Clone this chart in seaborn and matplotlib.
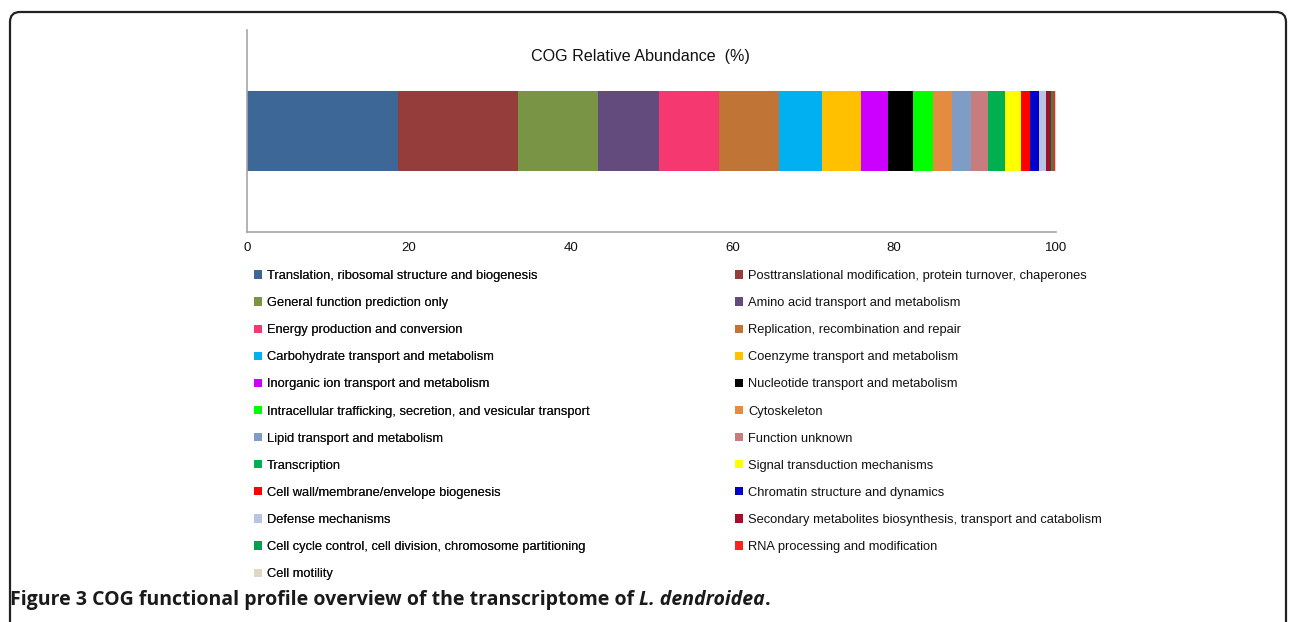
import matplotlib
matplotlib.use("Agg")
import matplotlib.pyplot as plt
import matplotlib.patches as mpatches
import matplotlib.transforms as mtransforms
import pandas as pd
import seaborn as sns

# COG categories, in bar / legend order
categories = [
    "Translation, ribosomal structure and biogenesis",
    "Posttranslational modification, protein turnover, chaperones",
    "General function prediction only",
    "Amino acid transport and metabolism",
    "Energy production and conversion",
    "Replication, recombination and repair",
    "Carbohydrate transport and metabolism",
    "Coenzyme transport and metabolism",
    "Inorganic ion transport and metabolism",
    "Nucleotide transport and metabolism",
    "Intracellular trafficking, secretion, and vesicular transport",
    "Cytoskeleton",
    "Lipid transport and metabolism",
    "Function unknown",
    "Transcription",
    "Signal transduction mechanisms",
    "Cell wall/membrane/envelope biogenesis",
    "Chromatin structure and dynamics",
    "Defense mechanisms",
    "Secondary metabolites biosynthesis, transport and catabolism",
    "Cell cycle control, cell division, chromosome partitioning",
    "RNA processing and modification",
    "Cell motility",
]
# relative abundance (%)
abundance = [18.63, 14.92, 9.84, 7.50, 7.42, 7.42, 5.35, 4.82, 3.34, 3.05,
             2.56, 2.30, 2.31, 2.10, 2.19, 1.89, 1.20, 1.03, 0.90, 0.58,
             0.28, 0.22, 0.15]
colors = ["#3D6796", "#943D3B", "#7A9445", "#634C7D", "#F5386F", "#C07536",
          "#00B0F0", "#FFC000", "#CC00FF", "#000000", "#00FF00", "#E38B41",
          "#7F9CC6", "#C77D7D", "#00B050", "#FFFF00", "#FF0000", "#0000CC",
          "#B8C4E0", "#A0102A", "#00A050", "#FF2020", "#DDD9C3"]

df = pd.DataFrame({"category": categories, "abundance": abundance, "color": colors})
df["end"] = df["abundance"].cumsum()

sns.set_theme(style="white")
plt.rcParams['font.family'] = ['Liberation Sans', 'DejaVu Sans']

W, H = 1290, 622
fig = plt.figure(figsize=(W / 100, H / 100), dpi=100)
ax = fig.add_axes([247 / W, 1 - 232 / H, (1056 - 247) / W, (232 - 30) / H])

# stacked bar: draw cumulative bars from the back to the front
for i in range(len(df) - 1, -1, -1):
    row = df.iloc[i]
    sns.barplot(x=[row["end"]], y=["COG"], color=row["color"], orient="h",
                width=0.4, saturation=1, linewidth=0, errorbar=None, ax=ax)

ax.set_xlim(0, 100)
ax.set_ylim(0.5, -0.5)
ax.set_xticks(range(0, 101, 20))
ax.set_yticks([-0.5])
ax.set_yticklabels([""])
ax.set_xlabel("")
ax.set_ylabel("")
for s in ["top", "right"]:
    ax.spines[s].set_visible(False)
for s in ["left", "bottom"]:
    ax.spines[s].set_color("#A6A6A6")
    ax.spines[s].set_linewidth(1.2)
ax.tick_params(axis="x", direction="in", length=4, color="#A6A6A6", pad=7,
               labelsize=9.5, labelcolor="#111111")
ax.tick_params(axis="y", direction="out", length=4, color="#A6A6A6")

fig.text(640 / W, 1 - 56 / H, "COG Relative Abundance  (%)", ha="center",
         va="center", fontsize=11.6, color="#111111")

# legend, row-major in two columns
handles = [mpatches.Patch(facecolor=c, edgecolor="none", label=l)
           for c, l in zip(colors, categories)]
leg_kw = dict(loc="upper left", frameon=False, borderpad=0, borderaxespad=0,
              handlelength=0.6, handleheight=0.6, handletextpad=0.4,
              labelspacing=1.17, fontsize=9.3, labelcolor="#111111")
leg1 = fig.legend(handles=handles[0::2], bbox_to_anchor=(254 / W, 1 - 270 / H), **leg_kw)
fig.add_artist(leg1)
fig.legend(handles=handles[1::2], bbox_to_anchor=(735 / W, 1 - 270 / H), **leg_kw)

# caption with italic species name
cap_y = 1 - 600 / H
cap_kw = dict(fontsize=14, fontweight="bold", va="center", color="#1a1a1a",
              family=['Open Sans', 'DejaVu Sans'])
t1 = fig.text(10 / W, cap_y, "Figure 3 COG functional profile overview of the transcriptome of ", **cap_kw)
fig.canvas.draw()
x1 = t1.get_window_extent().x1
t2 = fig.text(x1 / W, cap_y, "L. dendroidea", style="italic", **cap_kw)
fig.canvas.draw()
x2 = t2.get_window_extent().x1
fig.text(x2 / W, cap_y, ".", **cap_kw)

# rounded frame of the figure panel
frame = mpatches.FancyBboxPatch((10, -60), 1276, H - 12 + 60,
                                boxstyle="round,pad=0,rounding_size=10",
                                transform=mtransforms.IdentityTransform(),
                                fill=False, edgecolor="#222222", lw=1.6, clip_on=False)
fig.add_artist(frame)

fig.savefig("out.png", dpi=100)
